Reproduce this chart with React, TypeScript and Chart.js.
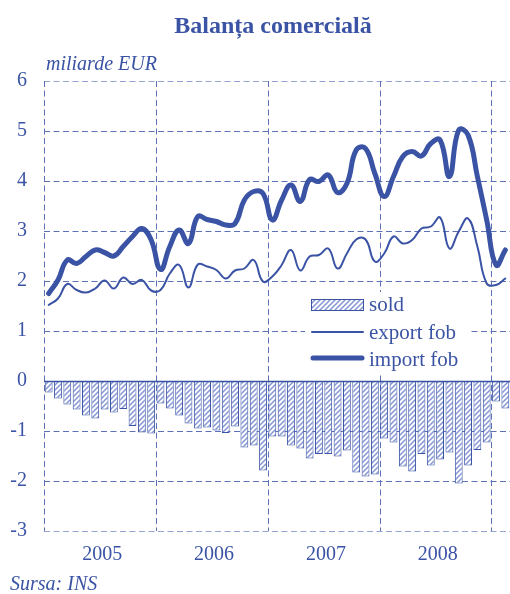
import React, { useEffect, useRef } from "react";
import { Chart, registerables } from "chart.js";

Chart.register(...registerables);

const years = ["2005", "2006", "2007", "2008", "2009"];
const months = ["01", "02", "03", "04", "05", "06", "07", "08", "09", "10", "11", "12"];
const categories: string[] = [];
for (let y = 0; y < 5; y++) {
  for (let m = 0; m < 12; m++) {
    if (y === 4 && m > 1) break;
    categories.push(years[y] + "-" + months[m]);
  }
}

const soldValues = [
  -0.23, -0.35, -0.47, -0.57, -0.69, -0.75, -0.57, -0.63, -0.56, -0.9, -1.03, -1.05,
  -0.45, -0.55, -0.69, -0.85, -0.95, -0.93, -0.99, -1.04, -0.91, -1.33, -1.29, -1.79,
  -1.11, -1.11, -1.29, -1.35, -1.55, -1.46, -1.46, -1.51, -1.39, -1.83, -1.91, -1.87,
  -1.15, -1.23, -1.71, -1.81, -1.46, -1.69, -1.57, -1.43, -2.05, -1.69, -1.38, -1.23,
  -0.41, -0.55,
];

const exportValues = [
  1.52, 1.65, 1.94, 1.82, 1.77, 1.85, 2.01, 1.85, 2.07, 1.94, 2.02, 1.81,
  1.82, 2.15, 2.32, 1.87, 2.33, 2.29, 2.22, 2.05, 2.21, 2.25, 2.42, 1.99,
  2.09, 2.32, 2.62, 2.21, 2.49, 2.52, 2.65, 2.25, 2.55, 2.83, 2.83, 2.39,
  2.55, 2.89, 2.75, 2.82, 3.05, 3.09, 3.27, 2.65, 2.99, 3.25, 2.69, 1.95,
  1.92, 2.05,
];

const importValues = [
  1.75, 2.02, 2.42, 2.35, 2.49, 2.62, 2.57, 2.5, 2.69, 2.89, 3.05, 2.82,
  2.23, 2.69, 3.02, 2.75, 3.29, 3.23, 3.19, 3.12, 3.15, 3.62, 3.79, 3.75,
  3.22, 3.62, 3.92, 3.59, 4.03, 3.99, 4.12, 3.77, 3.95, 4.62, 4.65, 4.15,
  3.69, 4.09, 4.49, 4.59, 4.5, 4.75, 4.82, 4.09, 5.02, 4.92, 4.09, 3.22,
  2.32, 2.62,
];

const yearLabels = ["2005", "2006", "2007", "2008"];
const legendLabels = ["sold", "export fob", "import fob"];
const titleText = "Balanța comercială";
const unitText = "miliarde EUR";
const sourceText = "Sursa: INS";

const BLUE = "#3a53a4";
const GRID = "#5d71b6";
const FONT = '"Liberation Serif", "Times New Roman", serif';

function makePattern(): CanvasPattern | string {
  const c = document.createElement("canvas");
  c.width = 5;
  c.height = 5;
  const g = c.getContext("2d");
  if (!g) return "#a8b5e0";
  g.fillStyle = "#ffffff";
  g.fillRect(0, 0, 5, 5);
  g.strokeStyle = "#8395d2";
  g.lineWidth = 1.5;
  g.beginPath();
  g.moveTo(-1, 6);
  g.lineTo(6, -1);
  g.moveTo(-1, 1);
  g.lineTo(1, -1);
  g.moveTo(4, 6);
  g.lineTo(6, 4);
  g.stroke();
  const p = g.createPattern(c, "repeat");
  return p || "#a8b5e0";
}

export default function App() {
  const ref = useRef<HTMLCanvasElement | null>(null);

  useEffect(() => {
    if (!ref.current) return;
    const pattern = makePattern();

    const gridPlugin = {
      id: "customGrid",
      beforeDatasetsDraw(chart: any) {
        const { ctx, chartArea, scales } = chart;
        const y = scales.y;
        ctx.save();
        ctx.lineWidth = 1;
        ctx.setLineDash([6, 3.5]);
        for (let v = -3; v <= 6; v++) {
          const py = Math.round(y.getPixelForValue(v)) + 0.5;
          ctx.strokeStyle = v === 6 || v === -3 ? "#95a3d3" : GRID;
          ctx.beginPath();
          ctx.moveTo(chartArea.left, py);
          ctx.lineTo(chartArea.right, py);
          ctx.stroke();
        }
        const n = categories.length;
        const w = (chartArea.right - chartArea.left) / n;
        for (let k = 0; k <= 48; k += 12) {
          const px = Math.round(chartArea.left + k * w) + 0.5;
          ctx.strokeStyle = GRID;
          ctx.beginPath();
          ctx.moveTo(px, chartArea.top);
          ctx.lineTo(px, chartArea.bottom);
          ctx.stroke();
        }
        ctx.restore();
      },
      afterDatasetsDraw(chart: any) {
        const { ctx, chartArea, scales } = chart;
        const y = scales.y;
        ctx.save();
        const z = Math.round(y.getPixelForValue(0)) + 0.5;
        ctx.strokeStyle = BLUE;
        ctx.lineWidth = 1.5;
        ctx.beginPath();
        ctx.moveTo(chartArea.left, z);
        ctx.lineTo(chartArea.right, z);
        ctx.stroke();

        ctx.fillStyle = "#ffffff";
        ctx.fillRect(305, 292, 165, 80);
        ctx.fillStyle = pattern as any;
        ctx.fillRect(311, 299, 52, 11);
        ctx.strokeStyle = BLUE;
        ctx.lineWidth = 1;
        ctx.strokeRect(311.5, 299.5, 52, 11);
        ctx.lineCap = "round";
        ctx.lineWidth = 2;
        ctx.beginPath();
        ctx.moveTo(312, 332);
        ctx.lineTo(363, 332);
        ctx.stroke();
        ctx.lineWidth = 5;
        ctx.beginPath();
        ctx.moveTo(313, 358);
        ctx.lineTo(362, 358);
        ctx.stroke();
        ctx.fillStyle = BLUE;
        ctx.font = "21px " + FONT;
        ctx.textAlign = "left";
        ctx.textBaseline = "alphabetic";
        ctx.fillText(legendLabels[0], 369, 311);
        ctx.fillText(legendLabels[1], 369, 339);
        ctx.fillText(legendLabels[2], 369, 366);

        ctx.font = "bold 24px " + FONT;
        ctx.textAlign = "center";
        ctx.fillText(titleText, 273, 33);
        ctx.font = "italic 20px " + FONT;
        ctx.textAlign = "left";
        ctx.fillText(unitText, 46, 70);
        ctx.fillText(sourceText, 10, 590);
        ctx.restore();
      },
    };

    const chart = new Chart(ref.current, {
      type: "bar",
      data: {
        labels: categories,
        datasets: [
          {
            type: "line",
            label: legendLabels[2],
            data: importValues,
            borderColor: BLUE,
            borderWidth: 5,
            pointRadius: 0,
            tension: 0.45,
            fill: false,
            borderCapStyle: "round",
            borderJoinStyle: "round",
            order: 0,
          } as any,
          {
            type: "line",
            label: legendLabels[1],
            data: exportValues,
            borderColor: BLUE,
            borderWidth: 2,
            pointRadius: 0,
            tension: 0.45,
            fill: false,
            borderCapStyle: "round",
            order: 1,
          } as any,
          {
            type: "bar",
            label: legendLabels[0],
            data: soldValues,
            backgroundColor: pattern as any,
            borderColor: BLUE,
            borderWidth: 1,
            barPercentage: 0.84,
            categoryPercentage: 1,
            order: 2,
          } as any,
        ],
      },
      options: {
        responsive: false,
        animation: false,
        devicePixelRatio: 1,
        layout: { padding: { top: 81, bottom: 23, left: 0, right: 0 } },
        plugins: {
          legend: { display: false },
          title: { display: false },
          tooltip: { enabled: false },
        },
        scales: {
          x: {
            type: "category",
            offset: true,
            grid: { display: false, drawTicks: false },
            border: { display: false },
            ticks: {
              autoSkip: false,
              maxRotation: 0,
              minRotation: 0,
              padding: 12,
              labelOffset: 7,
              color: BLUE,
              font: { family: FONT, size: 20 },
              callback: (_v: any, idx: number) => {
                if (idx % 12 === 5 && idx < 48) return yearLabels[Math.floor(idx / 12)];
                return "";
              },
            },
            afterFit: (s: any) => {
              s.height = 40;
              s.paddingLeft = 0;
              s.paddingRight = 0;
            },
          },
          y: {
            type: "linear",
            min: -3,
            max: 6,
            grid: { display: false, drawTicks: false },
            border: { display: false },
            ticks: {
              stepSize: 1,
              padding: 17,
              color: BLUE,
              font: { family: FONT, size: 20 },
              callback: (v: any) => String(v),
            },
            afterFit: (s: any) => {
              s.width = 44;
              s.paddingTop = 0;
              s.paddingBottom = 0;
            },
          },
        },
      },
      plugins: [gridPlugin],
    } as any);

    return () => chart.destroy();
  }, []);

  return (
    <div style={{ position: "absolute", left: 0, top: 0, width: 510, height: 594, background: "#fff" }}>
      <canvas ref={ref} width={510} height={594} style={{ display: "block" }} />
    </div>
  );
}
